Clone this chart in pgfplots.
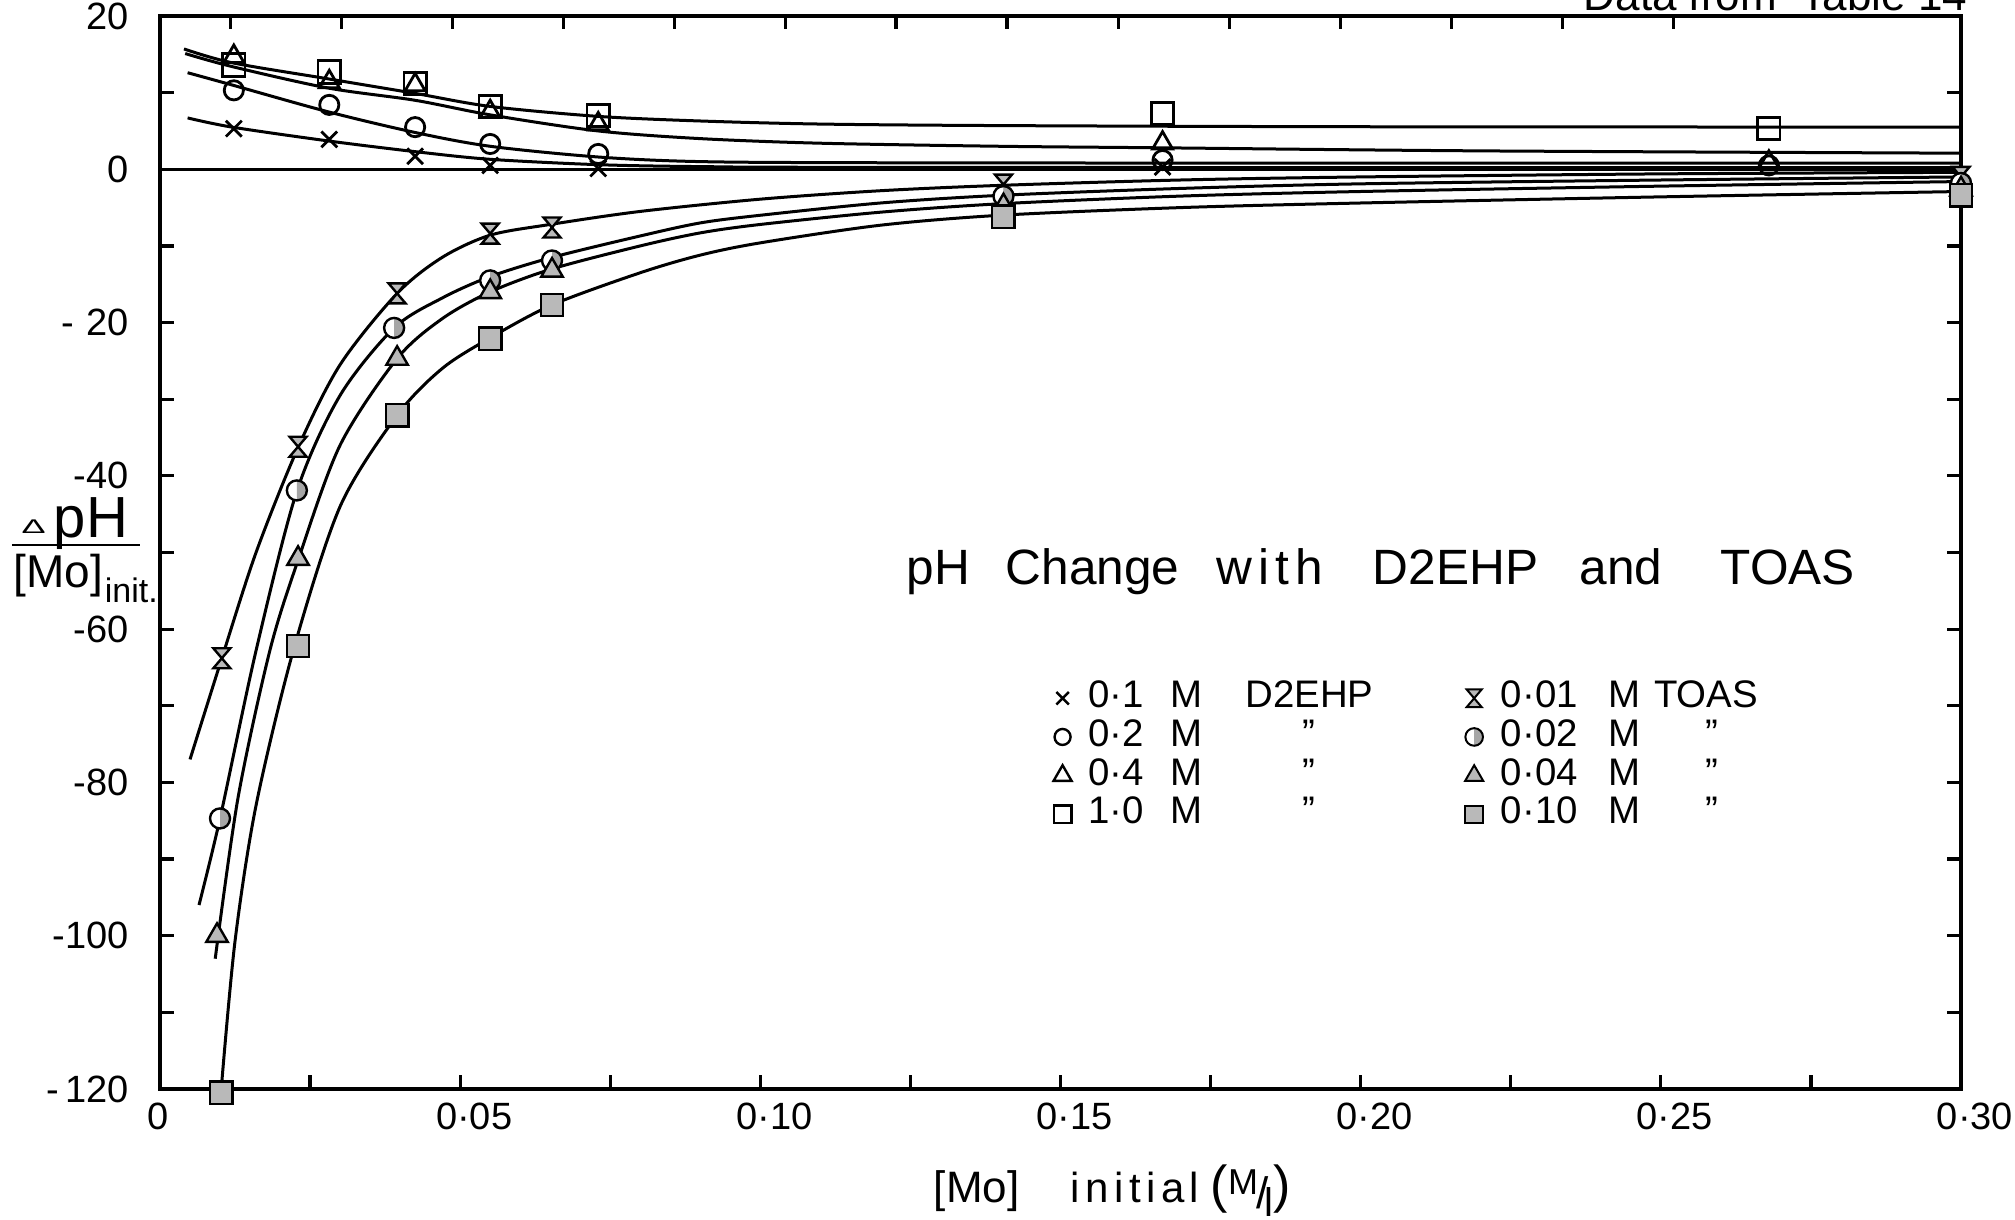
\documentclass[border=0pt]{standalone}
\usepackage{fontspec}
\setmainfont{Liberation Sans}
\usepackage{graphicx}
\usepackage{pgfplots}
\pgfplotsset{compat=1.18}
\usetikzlibrary{plotmarks}

\pgfdeclareplotmark{hourglass}{%
  \pgfpathmoveto{\pgfqpoint{-0.85\pgfplotmarksize}{\pgfplotmarksize}}%
  \pgfpathlineto{\pgfqpoint{0.85\pgfplotmarksize}{\pgfplotmarksize}}%
  \pgfpathlineto{\pgfqpoint{-0.85\pgfplotmarksize}{-\pgfplotmarksize}}%
  \pgfpathlineto{\pgfqpoint{0.85\pgfplotmarksize}{-\pgfplotmarksize}}%
  \pgfpathclose
  \pgfusepathqfillstroke}

\begin{document}
\begin{tikzpicture}
\begin{axis}[
  at={(0pt,0pt)}, anchor=south west,
  scale only axis, width=450.25pt, height=268.25pt,
  xmin=0, xmax=0.30, ymin=-120, ymax=20,
  clip=false,
  axis line style={line width=0.9pt},
  tick align=inside,
  major tick length=3.5pt, minor tick length=3.5pt,
  every tick/.style={black, line width=0.8pt},
  xtick pos=left,
  xtick={0.05,0.1,0.15,0.2,0.25,0.3},
  xticklabels={0·05,0·10,0·15,0·20,0·25,0·30},
  minor xtick={0.025,0.075,0.125,0.175,0.225,0.275},
  extra x ticks={0}, extra x tick labels={0},
  extra x tick style={xticklabel style={xshift=-4pt}},
  ytick={-120,-100,-80,-60,-40,-20,0,20},
  yticklabels={-\hspace{1.5pt}120,-100,-80,-60,-40,-\hspace{3pt}20,0,20},
  minor ytick={-110,-90,-70,-50,-30,-10,10},
  tick label style={font=\fontsize{9.5}{11}\selectfont},
  xticklabel style={xshift=3.5pt},
  yticklabel style={xshift=-4.3pt},
  legend columns=2,
  legend cell align=left,
  legend style={draw=none, fill=none, at={(0.4936,0.3829)}, anchor=north west,
    inner xsep=0pt, inner ysep=0pt, row sep=0pt, column sep=0pt,
    nodes={inner sep=0pt, text height=7.2pt, text depth=2.47pt},
    font=\fontsize{9.6}{11}\selectfont},
  legend image code/.code={\path (-3pt,0pt) (3pt,0pt); \draw[#1] plot coordinates {(0pt,0pt)};},
]
% zero line
\addplot[black, line width=0.8pt, forget plot] coordinates {(0,0) (0.30,0)};

% ---- D2EHP fitted curves
\addplot[black, line width=0.75pt, smooth, tension=0.5, forget plot] coordinates {
(0.0040,15.7) (0.012,13.9) (0.028,11.8) (0.0425,9.9) (0.055,8.2) (0.073,6.9) (0.09,6.3) (0.11,5.9) (0.14,5.7) (0.20,5.55) (0.30,5.5)};
\addplot[black, line width=0.75pt, smooth, tension=0.5, forget plot] coordinates {
(0.0042,15.1) (0.012,13.4) (0.028,10.6) (0.0425,9.0) (0.055,7.1) (0.073,5.0) (0.09,4.0) (0.11,3.4) (0.14,3.0) (0.167,2.8) (0.22,2.4) (0.30,2.1)};
\addplot[black, line width=0.75pt, smooth, tension=0.5, forget plot] coordinates {
(0.0046,12.6) (0.012,11.0) (0.028,7.5) (0.0425,4.8) (0.055,3.0) (0.073,1.6) (0.09,1.0) (0.12,0.85) (0.20,0.8) (0.30,0.8)};
\addplot[black, line width=0.75pt, smooth, tension=0.5, forget plot] coordinates {
(0.0046,6.7) (0.012,5.5) (0.028,3.7) (0.0425,2.3) (0.055,1.3) (0.073,0.6) (0.09,0.35) (0.12,0.25) (0.30,0.2)};

% ---- TOAS fitted curves
\addplot[black, line width=0.75pt, smooth, tension=0.5, forget plot] coordinates {
(0.0050,-77) (0.0103,-63.8) (0.016,-50) (0.023,-36.3) (0.030,-25.5) (0.0395,-16.2) (0.047,-11.5) (0.055,-8.6) (0.065,-7.2) (0.08,-5.5) (0.10,-3.9) (0.12,-2.8) (0.14,-2.1) (0.17,-1.4) (0.20,-1.0) (0.25,-0.6) (0.30,-0.4)};
\addplot[black, line width=0.75pt, smooth, tension=0.5, forget plot] coordinates {
(0.0065,-96) (0.010,-84.7) (0.016,-62.8) (0.0228,-42) (0.030,-29.5) (0.039,-20.7) (0.047,-16.8) (0.055,-14.0) (0.0653,-11.5) (0.08,-8.7) (0.09,-7.0) (0.10,-6.0) (0.12,-4.4) (0.14,-3.4) (0.17,-2.5) (0.20,-1.9) (0.25,-1.4) (0.30,-1.0)};
\addplot[black, line width=0.75pt, smooth, tension=0.5, forget plot] coordinates {
(0.0092,-103) (0.013,-82) (0.0183,-62.8) (0.023,-51) (0.030,-36) (0.0395,-24.7) (0.047,-19.5) (0.055,-16) (0.0653,-13) (0.08,-10) (0.09,-8.3) (0.10,-7.2) (0.12,-5.6) (0.14,-4.5) (0.17,-3.5) (0.20,-2.9) (0.25,-2.2) (0.30,-1.6)};
\addplot[black, line width=0.75pt, smooth, tension=0.5, forget plot] coordinates {
(0.0102,-120) (0.0125,-100.7) (0.016,-83) (0.0222,-62.8) (0.030,-44) (0.0395,-32.1) (0.047,-26) (0.055,-22) (0.0653,-17.7) (0.08,-13.5) (0.09,-11.2) (0.10,-9.6) (0.12,-7.3) (0.14,-6.0) (0.17,-5.0) (0.20,-4.4) (0.25,-3.6) (0.30,-2.9)};

% ---- D2EHP points
\addplot[only marks, mark=x, mark size=2.8pt, mark options={line width=0.7pt}, forget plot] coordinates {
(0.0123,5.3) (0.0282,3.9) (0.0425,1.7) (0.055,0.5) (0.073,0.1) (0.167,0.3)};
\addplot[only marks, mark=o, mark size=2.4pt, mark options={line width=0.7pt}, forget plot] coordinates {
(0.0123,10.3) (0.0282,8.4) (0.0425,5.5) (0.055,3.3) (0.073,2.0) (0.167,1.2) (0.268,0.5)};
\addplot[only marks, mark=triangle, mark size=2.9pt, mark options={line width=0.7pt}, forget plot] coordinates {
(0.0123,14.7) (0.0282,11.4) (0.0425,11.0) (0.055,7.5) (0.073,5.9) (0.167,3.4) (0.268,0.9)};
\addplot[only marks, mark=square, mark size=2.8pt, mark options={line width=0.7pt}, forget plot] coordinates {
(0.0123,13.6) (0.0282,12.7) (0.0425,11.2) (0.055,8.2) (0.073,7.0) (0.167,7.3) (0.268,5.3)};

% ---- TOAS points
\addplot[only marks, mark=hourglass, mark size=2.5pt, mark options={fill=gray!55, draw=black, line width=0.6pt}, forget plot] coordinates {
(0.0103,-63.8) (0.023,-36.2) (0.0395,-16.2) (0.055,-8.4) (0.0653,-7.6) (0.1405,-2.0) (0.30,-1.0)};
\addplot[only marks, mark=halfcircle*, mark size=2.5pt, mark color=gray!70, mark options={rotate=90, fill=white, draw=black, line width=0.6pt}, forget plot] coordinates {
(0.0100,-84.7) (0.0228,-41.9) (0.039,-20.7) (0.055,-14.5) (0.0653,-11.9) (0.1405,-3.5) (0.30,-1.8)};
\addplot[only marks, mark=triangle*, mark size=3.1pt, mark options={fill=gray!55, draw=black, line width=0.6pt}, forget plot] coordinates {
(0.0095,-100.0) (0.023,-50.8) (0.0395,-24.7) (0.055,-16.0) (0.0653,-13.2) (0.1405,-4.8) (0.30,-2.6)};
\addplot[only marks, mark=square*, mark size=2.8pt, mark options={fill=gray!55, draw=black, line width=0.6pt}, forget plot] coordinates {
(0.0102,-120.5) (0.023,-62.2) (0.0395,-32.1) (0.055,-22.1) (0.0653,-17.7) (0.1405,-6.2) (0.30,-3.4)};

% ---- legend
\addlegendimage{mark=x, mark size=2.2pt, mark options={line width=0.6pt}}
\addlegendentry{\hspace{3.25pt}\makebox[93.25pt][l]{\makebox[20.5pt][l]{0·1}\makebox[18.5pt][l]{M}\makebox[32.5pt][c]{D2EHP}}}
\addlegendimage{mark=hourglass, mark size=2.2pt, mark options={fill=gray!55, draw=black, line width=0.5pt}}
\addlegendentry{\hspace{3.5pt}\makebox[27pt][l]{0·01}\makebox[9.5pt][l]{M}\makebox[29.5pt][c]{TOAS}}
\addlegendimage{mark=o, mark size=2pt, mark options={line width=0.6pt}}
\addlegendentry{\hspace{3.25pt}\makebox[93.25pt][l]{\makebox[20.5pt][l]{0·2}\makebox[18.5pt][l]{M}\makebox[32.5pt][c]{''}}}
\addlegendimage{mark=halfcircle*, mark size=2.2pt, mark color=gray!70, mark options={rotate=90, fill=white, draw=black, line width=0.5pt}}
\addlegendentry{\hspace{3.5pt}\makebox[27pt][l]{0·02}\makebox[9.5pt][l]{M}\makebox[32.5pt][c]{''}}
\addlegendimage{mark=triangle, mark size=2.6pt, mark options={line width=0.6pt}}
\addlegendentry{\hspace{3.25pt}\makebox[93.25pt][l]{\makebox[20.5pt][l]{0·4}\makebox[18.5pt][l]{M}\makebox[32.5pt][c]{''}}}
\addlegendimage{mark=triangle*, mark size=2.6pt, mark options={fill=gray!55, draw=black, line width=0.5pt}}
\addlegendentry{\hspace{3.5pt}\makebox[27pt][l]{0·04}\makebox[9.5pt][l]{M}\makebox[32.5pt][c]{''}}
\addlegendimage{mark=square, mark size=2.2pt, mark options={line width=0.6pt}}
\addlegendentry{\hspace{3.25pt}\makebox[93.25pt][l]{\makebox[20.5pt][l]{1·0}\makebox[18.5pt][l]{M}\makebox[32.5pt][c]{''}}}
\addlegendimage{mark=square*, mark size=2.2pt, mark options={fill=gray!55, draw=black, line width=0.5pt}}
\addlegendentry{\hspace{3.5pt}\makebox[27pt][l]{0·10}\makebox[9.5pt][l]{M}\makebox[32.5pt][c]{''}}
\end{axis}

% top ticks (different spacing from the bottom axis)
\begin{axis}[
  at={(0pt,0pt)}, anchor=south west,
  scale only axis, width=450.25pt, height=268.25pt,
  xmin=0, xmax=0.30, ymin=-120, ymax=20,
  axis x line*=top, axis y line=none,
  x axis line style={draw=none},
  tick align=inside, major tick length=3.3pt,
  every tick/.style={black, line width=0.8pt},
  xtick={0.0117,0.0302,0.0487,0.0672,0.0857,0.1042,0.1226,0.1411,0.1596,0.1781,0.1966,0.2151,0.2336,0.2521},
  xticklabels={}, ytick=\empty,
]
\end{axis}

% title (words placed as in the lettering)
\begin{scope}[every node/.style={anchor=base west, inner sep=0pt, font=\fontsize{12.4}{14}\selectfont}]
\node at (186.5pt,126pt) {pH};
\node at (211.25pt,126pt) {Change};
\node at (264pt,126pt) {\addfontfeatures{LetterSpace=12}with};
\node at (303pt,126pt) {D2EHP};
\node at (354.75pt,126pt) {and};
\node at (390pt,126pt) {TOAS};
\end{scope}

% y label
\draw[line width=0.7pt] (-37pt,136pt) -- (-5pt,136pt);
\node[inner sep=0pt] at (-31.6pt,140.6pt) {\fontsize{9}{9}\selectfont\scalebox{1}[0.55]{Δ}};
\node[anchor=base west, inner sep=0pt, font=\fontsize{14.5}{16}\selectfont] at (-26.75pt,137.75pt) {pH};
\node[anchor=base west, inner sep=0pt, font=\fontsize{11.5}{13}\selectfont] at (-36.75pt,125.25pt) {[Mo]};
\node[anchor=base west, inner sep=0pt, font=\fontsize{8.5}{9}\selectfont] at (-14pt,121.5pt) {init.};

% x label
\node[anchor=base west, inner sep=0pt, font=\fontsize{11}{13}\selectfont] at (193.25pt,-28.5pt) {[Mo]};
\node[anchor=base west, inner sep=0pt] at (227.5pt,-28.5pt) {\fontsize{10.5}{12}\selectfont\addfontfeatures{LetterSpace=13}initial};
\node[anchor=base west, inner sep=0pt] at (262.5pt,-28.5pt) {\fontsize{13}{14}\selectfont(\raisebox{2pt}{\fontsize{9}{9}\selectfont M}\kern-0.5pt\raisebox{-1.5pt}{\fontsize{11}{11}\selectfont/}\kern-1pt\raisebox{-3.5pt}{\fontsize{10}{10}\selectfont l})};

% cut-off heading at top right
\node[anchor=base west, inner sep=0pt, font=\fontsize{11}{13}\selectfont] at (355.75pt,269.5pt) {Data from\hspace{6pt}Table 14};

\pgfresetboundingbox
\useasboundingbox (-40pt,-32.75pt) rectangle (463.75pt,272.25pt);
\end{tikzpicture}
\end{document}
